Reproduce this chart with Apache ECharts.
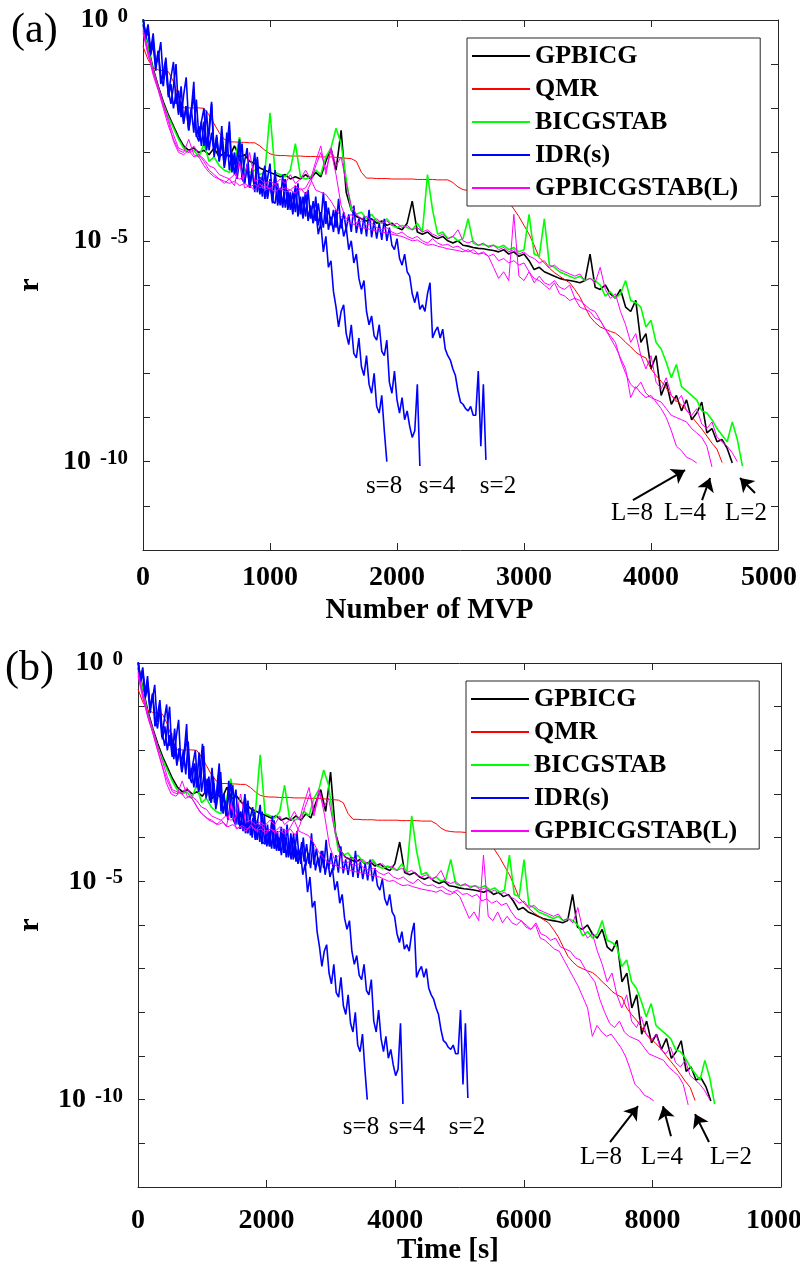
<!DOCTYPE html>
<html>
<head>
<meta charset="utf-8">
<script src="https://cdn.jsdelivr.net/npm/echarts@6/dist/echarts.min.js"></script>
<style>
html, body { margin: 0; padding: 0; background: #fff; overflow: hidden; }
#chart { width: 800px; height: 1278px; }
</style>
</head>
<body>
<div id="chart"></div>
<script>
// residual histories: log10(r), one value every `step` MVPs
const step40 = 40;
const step20 = 20;

const gpbicg = [
    0, -0.6, -1.1, -1.5, -1.85, -2.15, -2.4, -2.65, -2.85, -2.95,
    -2.9, -3.0, -2.95, -3.05, -2.9, -3.1, -3.0, -3.1, -2.85, -3.1,
    -3.05, -3.2, -3.25, -3.35, -3.4, -3.45, -3.5, -3.55, -3.5, -3.6,
    -3.55, -3.6, -3.5, -3.6, -3.45, -3.55, -3.2, -2.9, -3.4, -2.5,
    -3.9, -4.3, -4.45, -4.5, -4.55, -4.5, -4.6, -4.55, -4.65, -4.6,
    -4.7, -4.75, -4.6, -4.1, -4.8, -4.85, -4.8, -4.9, -4.95, -4.9,
    -5.0, -5.05, -5.0, -5.1, -5.12, -5.15, -5.17, -5.18, -5.2, -5.22,
    -5.25, -5.2, -5.3, -5.25, -5.35, -5.3, -5.45, -5.65, -5.6, -5.7,
    -5.75, -5.8, -5.85, -5.88, -5.9, -5.92, -5.95, -5.9, -5.3, -6.05,
    -6.1, -6.0, -6.2, -6.3, -6.1, -6.5, -6.6, -6.35, -7.3, -7.1,
    -7.9, -7.6, -8.5, -8.2, -8.7, -8.5, -8.85, -8.6, -9.05, -8.9,
    -8.65, -9.35, -9.25, -9.55, -9.5, -9.7, -10.03
];

const qmr = [
    -0.6, -0.9, -1.08, -1.13, -1.15, -1.17, -1.4, -1.75, -1.99, -1.99,
    -1.99, -1.99, -2.0, -2.15, -2.35, -2.55, -2.7, -2.76, -2.76, -2.77,
    -2.77, -2.78, -2.78, -2.85, -2.95, -3.03, -3.06, -3.07, -3.07, -3.08,
    -3.08, -3.08, -3.09, -3.09, -3.09, -3.1, -3.1, -3.1, -3.11, -3.12,
    -3.13, -3.14, -3.2, -3.45, -3.58, -3.58, -3.59, -3.59, -3.59, -3.6,
    -3.6, -3.6, -3.6, -3.6, -3.61, -3.61, -3.61, -3.61, -3.62, -3.62,
    -3.62, -3.68, -3.78, -3.84, -3.86, -3.87, -3.87, -3.88, -3.88, -3.89,
    -3.89, -3.95, -4.12, -4.28, -4.45, -4.65, -4.85, -5.1, -5.38, -5.5,
    -5.62, -5.72, -5.8, -5.88, -5.95, -6.1, -6.27, -6.5, -6.72, -6.85,
    -6.95, -7.0, -7.05, -7.09, -7.18, -7.3, -7.4, -7.52, -7.6, -7.65,
    -7.9, -8.05, -8.18, -8.33, -8.5, -8.6, -8.72, -8.83, -8.98, -9.12,
    -9.26, -9.42, -9.58, -9.72, -10.02
];

const bicgstab = [
    0, -0.65, -1.15, -1.55, -1.9, -2.2, -2.45, -2.7, -2.9, -3.0,
    -2.95, -3.1, -2.8, -3.2, -3.1, -3.3, -3.4, -3.45, -3.2, -2.65,
    -3.4, -3.45, -3.4, -3.5, -3.45, -2.1, -3.45, -3.5, -3.55, -3.4,
    -2.8, -3.55, -3.6, -3.55, -3.4, -3.5, -3.1, -2.9, -2.45, -2.8,
    -3.6, -4.3, -4.4, -4.35, -4.5, -4.4, -4.55, -4.6, -4.5, -4.65,
    -4.7, -4.65, -4.7, -4.75, -4.6, -4.8, -3.5, -4.3, -4.85, -4.8,
    -4.95, -4.9, -5.0, -4.95, -4.5, -5.05, -5.1, -5.08, -5.12, -5.1,
    -5.15, -5.1, -5.2, -5.15, -5.25, -5.2, -4.4, -5.3, -5.35, -4.5,
    -5.55, -5.6, -5.7, -5.75, -5.8, -5.85, -5.8, -5.9, -5.85, -5.9,
    -6.0, -6.25, -6.15, -6.3, -6.2, -5.9, -6.35, -6.4, -6.5, -6.95,
    -6.8, -7.3, -7.45, -7.75, -8.1, -7.8, -8.3, -8.4, -8.5, -8.6,
    -8.85, -8.9, -9.05, -9.25, -9.4, -9.55, -9.1, -9.5, -10.1
];

const idr8 = [
    0.05, -0.35, -0.1, -0.7, -0.3, -1.0, -0.85, -0.5, -1.35, -1.1,
    -1.7, -1.3, -0.95, -1.9, -1.6, -2.2, -1.7, -1.3, -2.35, -2.0,
    -2.55, -1.8, -2.65, -2.3, -2.0, -2.85, -2.45, -1.85, -3.0, -2.65,
    -3.15, -2.4, -3.2, -2.9, -2.3, -3.35, -3.0, -3.5, -2.7, -3.55,
    -3.2, -2.9, -3.7, -3.4, -3.85, -3.1, -3.9, -3.55, -3.3, -4.0,
    -3.6, -4.1, -3.4, -4.1, -3.8, -4.2, -3.6, -4.25, -3.9, -4.3,
    -3.75, -4.35, -4.0, -4.45, -3.9, -4.5, -4.2, -4.6, -4.3, -4.85,
    -4.6, -5.25, -4.9, -5.6, -5.45, -6.15, -6.5, -6.95, -6.6, -6.45,
    -7.1, -7.35, -6.9, -7.55, -7.65, -7.2, -7.85, -8.05, -7.6, -8.25,
    -8.45, -8.0, -8.75, -8.9, -8.5, -9.3, -10.0
];

const idr4 = [
    0.1, -0.45, -0.2, -0.8, -0.55, -1.15, -0.7, -1.45, -1.2, -0.85,
    -1.6, -1.9, -1.5, -1.0, -2.1, -1.85, -2.35, -1.95, -2.5, -2.05,
    -1.4, -2.65, -2.4, -2.85, -2.3, -2.95, -2.6, -1.9, -3.1, -2.75,
    -3.2, -2.6, -3.35, -3.0, -2.5, -3.45, -3.15, -3.6, -3.2, -2.8,
    -3.7, -3.3, -3.8, -3.45, -3.0, -3.9, -3.55, -4.0, -3.4, -4.05,
    -3.7, -4.15, -3.5, -4.2, -3.85, -4.25, -3.6, -4.3, -4.0, -4.4,
    -3.8, -4.45, -4.1, -4.5, -3.9, -4.55, -4.25, -4.6, -4.0, -4.65,
    -4.35, -4.7, -4.1, -4.75, -4.45, -4.8, -4.3, -4.85, -4.5, -4.9,
    -4.7, -5.2, -5.0, -5.5, -5.3, -5.85, -6.1, -5.9, -6.6, -6.9,
    -6.7, -7.15, -7.25, -6.9, -7.5, -7.6, -7.25, -8.2, -8.45, -7.95,
    -8.6, -8.9, -8.55, -9.05, -8.85, -9.2, -9.45, -9.3, -8.25, -10.1
];

const idr2 = [
    -0.1, -0.4, -0.25, -0.75, -0.45, -1.05, -0.7, -1.25, -1.5, -0.95,
    -1.75, -1.45, -2.0, -1.65, -2.15, -1.5, -2.3, -1.95, -2.5, -2.1,
    -1.7, -2.6, -2.75, -2.3, -2.85, -2.05, -2.95, -2.55, -3.05, -2.6,
    -3.2, -2.75, -3.3, -2.55, -3.4, -3.0, -3.5, -3.1, -2.75, -3.6,
    -3.7, -3.25, -3.8, -3.35, -3.9, -3.15, -3.95, -3.55, -4.05, -3.6,
    -3.25, -4.1, -4.15, -3.7, -4.2, -3.5, -4.25, -3.85, -4.3, -3.9,
    -4.35, -3.7, -4.4, -4.0, -4.45, -3.85, -4.5, -4.1, -4.55, -4.15,
    -4.6, -3.9, -4.62, -4.25, -4.65, -4.3, -4.7, -4.05, -4.72, -4.35,
    -4.75, -4.4, -4.8, -4.2, -4.82, -4.5, -4.85, -4.45, -4.9, -4.3,
    -4.92, -4.55, -4.95, -4.6, -4.98, -4.5, -5.0, -4.7, -5.1, -5.2,
    -4.95, -5.4, -5.55, -5.3, -5.7, -5.8, -6.2, -6.4, -6.15, -6.55,
    -6.45, -6.6, -6.2, -5.95, -7.2, -7.05, -6.95, -7.2, -7.0, -7.45,
    -7.6, -7.7, -7.9, -8.05, -8.4, -8.65, -8.7, -8.8, -8.85, -8.75,
    -8.95, -8.95, -7.95, -9.65, -8.25, -9.96
];

const gpL8 = [
    -0.3, -0.8, -1.2, -1.55, -1.95, -2.3, -2.75, -3.0, -3.05, -2.95,
    -3.1, -3.05, -3.2, -3.4, -3.5, -3.6, -3.65, -3.7, -3.65, -3.75,
    -3.7, -3.78, -3.72, -3.8, -3.75, -3.82, -3.7, -3.85, -3.8, -3.85,
    -3.75, -3.85, -3.8, -3.6, -3.85, -3.9, -3.95, -4.1, -4.3, -4.45,
    -4.55, -4.6, -4.65, -4.7, -4.72, -4.75, -4.78, -4.8, -4.82, -4.85,
    -4.88, -4.9, -4.95, -5.0, -4.98, -5.05, -5.1, -5.08, -5.12, -5.15,
    -5.18, -5.2, -5.22, -5.25, -5.2, -5.28, -5.3, -5.25, -5.35, -5.6,
    -5.85, -5.7, -5.9, -4.4, -5.8, -5.9, -5.7, -5.95, -5.8, -5.95,
    -6.0, -5.9, -6.05, -6.1, -6.0, -6.3, -6.35, -6.45, -6.55, -6.6,
    -6.8, -7.0, -7.2, -7.4, -7.65, -7.9, -8.55, -8.3, -8.45, -8.55,
    -8.5, -8.65, -8.8, -9.0, -9.3, -9.65, -9.75, -9.9, -9.95, -10.03
];

const gpL4 = [
    -0.2, -0.75, -1.25, -1.6, -2.0, -2.4, -2.7, -2.95, -3.0, -2.7,
    -3.05, -3.1, -3.3, -3.45, -3.55, -3.6, -3.7, -3.6, -3.75, -3.2,
    -3.8, -3.75, -3.85, -3.7, -3.85, -3.8, -3.9, -3.8, -3.9, -3.85,
    -3.92, -3.8, -3.95, -3.7, -3.3, -3.0, -3.4, -2.95, -3.5, -4.2,
    -4.5, -4.4, -4.6, -4.55, -4.65, -4.6, -4.7, -4.75, -4.7, -4.8,
    -4.85, -4.8, -4.9, -4.95, -4.9, -5.0, -5.05, -4.95, -5.05, -5.1,
    -5.08, -5.15, -5.12, -5.2, -5.25, -5.2, -5.3, -5.28, -5.35, -5.3,
    -5.45, -5.4, -5.5, -5.45, -5.55, -5.5, -5.7, -5.85, -5.9, -6.0,
    -6.1, -5.95, -6.2, -6.25, -6.35, -6.3, -6.5, -6.55, -6.6, -6.75,
    -6.8, -7.0, -7.15, -7.3, -7.7, -8.0, -8.25, -8.35, -8.2, -8.45,
    -8.55, -8.6, -8.65, -8.8, -8.95, -9.0, -9.05, -9.1, -9.25, -9.35,
    -9.45, -9.65, -10.12
];

const gpL2 = [
    -0.25, -0.7, -1.15, -1.5, -1.9, -2.25, -2.6, -2.9, -2.95, -3.0,
    -2.85, -3.05, -3.15, -3.3, -3.35, -3.5, -3.55, -3.6, -3.5, -3.6,
    -3.55, -3.0, -3.65, -3.6, -3.7, -3.65, -3.72, -3.6, -3.7, -3.5,
    -3.7, -3.6, -3.4, -3.6, -3.2, -2.85, -3.5, -2.9, -3.3, -3.1,
    -3.7, -4.2, -4.4, -4.5, -4.45, -4.55, -4.5, -4.6, -4.55, -4.65,
    -4.6, -4.7, -4.65, -4.75, -4.7, -4.8, -4.75, -4.85, -4.9, -4.85,
    -4.95, -4.9, -4.75, -5.0, -5.05, -5.0, -5.1, -5.05, -5.15, -5.1,
    -5.2, -5.15, -5.25, -5.2, -5.3, -5.25, -5.35, -5.4, -5.5, -5.45,
    -5.6, -5.55, -5.65, -5.7, -5.75, -5.8, -5.75, -5.9, -5.85, -5.95,
    -5.6, -6.1, -6.3, -6.2, -6.6, -6.9, -7.3, -7.1, -7.6, -7.9,
    -7.6, -8.2, -8.35, -8.1, -8.5, -8.65, -8.5, -8.85, -8.95, -8.8,
    -9.15, -9.25, -9.1, -9.45, -9.55, -9.65, -9.8, -10.0
];

// wall-clock seconds per MVP for each run (b)
const secPerMvp = {
    gpbicg: 1.92, qmr: 1.90, bicgstab: 1.90,
    idr8: 1.857, idr4: 1.89, idr2: 1.90,
    gpL8: 1.84, gpL4: 1.91, gpL2: 1.90
};

const legendNames = ['GPBICG', 'QMR', 'BICGSTAB', 'IDR(s)', 'GPBICGSTAB(L)'];
const yLabelTicks = [0, -5, -10];

// text annotations [x, log10 r, text] and arrows [x0, y0, x1, y1]
const notesA = [[1898, -10.55, 's=8'], [2315, -10.55, 's=4'], [2795, -10.55, 's=2'],
                [3850, -11.18, 'L=8'], [4268, -11.18, 'L=4'], [4748, -11.18, 'L=2']];
const arrowsA = [[3858, -10.87, 4268, -10.19], [4402, -10.87, 4465, -10.37], [4819, -10.71, 4701, -10.37]];
const notesB = [[3468, -10.63, 's=8'], [4183, -10.63, 's=4'], [5117, -10.63, 's=2'],
                [7201, -11.32, 'L=8'], [8149, -11.32, 'L=4'], [9222, -11.32, 'L=2']];
const arrowsB = [[7341, -10.97, 7776, -10.15], [8289, -10.84, 8165, -10.15], [8880, -10.97, 8663, -10.33]];

const serif = '"Liberation Serif", "Times New Roman", serif';
const axisColor = '#262626';

const runs = [
    { key: 'gpbicg', name: 'GPBICG', values: gpbicg, step: step40, color: '#000000', width: 1.6 },
    { key: 'qmr', name: 'QMR', values: qmr, step: step40, color: '#ff0000', width: 1 },
    { key: 'bicgstab', name: 'BICGSTAB', values: bicgstab, step: step40, color: '#00ff00', width: 1.6 },
    { key: 'idr8', name: 'IDR(s)', values: idr8, step: step20, color: '#0000ff', width: 1.6 },
    { key: 'idr4', name: 'IDR(s)', values: idr4, step: step20, color: '#0000ff', width: 1.6 },
    { key: 'idr2', name: 'IDR(s)', values: idr2, step: step20, color: '#0000ff', width: 1.6 },
    { key: 'gpL8', name: 'GPBICGSTAB(L)', values: gpL8, step: step40, color: '#ff00ff', width: 1 },
    { key: 'gpL4', name: 'GPBICGSTAB(L)', values: gpL4, step: step40, color: '#ff00ff', width: 1 },
    { key: 'gpL2', name: 'GPBICGSTAB(L)', values: gpL2, step: step40, color: '#ff00ff', width: 1 }
];

const tickFont = { fontFamily: serif, fontWeight: 'bold', fontSize: 28, color: '#000' };

function xAxes(grid, max, interval, name, nameGap, namePad, labelMargin, lastPad) {
    const line = { onZero: false, lineStyle: { color: axisColor, width: 1 } };
    const tick = { inside: true, length: 7, lineStyle: { color: axisColor } };
    return [
        {
            gridIndex: grid, type: 'value', min: 0, max: max, interval: interval, position: 'bottom',
            name: name, nameLocation: 'middle', nameGap: nameGap,
            nameTextStyle: { fontFamily: serif, fontWeight: 'bold', fontSize: 29, color: '#000', padding: [0, namePad, 0, 0] },
            axisLine: line, axisTick: tick, splitLine: { show: false },
            axisLabel: Object.assign({
                margin: labelMargin,
                // last label is nudged left so it stays inside the figure, as in the original
                formatter: v => (v === max ? '{m|' + v + '}' : String(v)),
                rich: { m: Object.assign({ padding: [0, lastPad, 0, 0] }, tickFont) }
            }, tickFont)
        },
        {
            gridIndex: grid, type: 'value', min: 0, max: max, interval: interval, position: 'top',
            axisLine: line, axisTick: tick, splitLine: { show: false }, axisLabel: { show: false }
        }
    ];
}

function yAxes(grid, nameGap) {
    const line = { onZero: false, lineStyle: { color: axisColor, width: 1 } };
    const tick = { inside: true, length: 7, lineStyle: { color: axisColor } };
    return [
        {
            gridIndex: grid, type: 'value', min: -12, max: 0, interval: 1, position: 'left',
            name: 'r', nameLocation: 'middle', nameRotate: 90, nameGap: nameGap,
            nameTextStyle: { fontFamily: serif, fontWeight: 'bold', fontSize: 30, color: '#000' },
            axisLine: line, axisTick: tick, splitLine: { show: false },
            axisLabel: {
                margin: 15,
                formatter: v => (yLabelTicks.indexOf(v) >= 0 ? '{b|10}{e|' + v + '}' : ''),
                rich: {
                    b: { fontFamily: serif, fontWeight: 'bold', fontSize: 28, lineHeight: 28, padding: [8, 0, 0, 0], verticalAlign: 'bottom', color: '#000' },
                    e: { fontFamily: serif, fontWeight: 'bold', fontSize: 21, lineHeight: 21, padding: [0, 0, 0, 9], verticalAlign: 'top', color: '#000' }
                }
            }
        },
        {
            gridIndex: grid, type: 'value', min: -12, max: 0, interval: 1, position: 'right',
            axisLine: line, axisTick: tick, splitLine: { show: false }, axisLabel: { show: false }
        }
    ];
}

function runSeries(xIndex, yIndex, timeAxis) {
    return runs.map(run => ({
        name: run.name,
        type: 'line',
        xAxisIndex: xIndex,
        yAxisIndex: yIndex,
        symbol: 'none',
        animation: false,
        color: run.color,
        lineStyle: { color: run.color, width: run.width },
        data: run.values.map((v, i) => [i * run.step * (timeAxis ? secPerMvp[run.key] : 1), v])
    }));
}

function noteSeries(xIndex, yIndex, notes, arrows) {
    return {
        type: 'scatter',
        xAxisIndex: xIndex,
        yAxisIndex: yIndex,
        silent: true,
        animation: false,
        symbolSize: 1,
        itemStyle: { color: 'rgba(0,0,0,0)' },
        label: {
            show: true, position: 'inside', formatter: p => p.data[2],
            fontFamily: serif, fontSize: 25, color: '#000', textBorderWidth: 0, opacity: 1
        },
        data: notes,
        markLine: {
            silent: true,
            animation: false,
            symbol: ['none', 'arrow'],
            symbolSize: 13,
            lineStyle: { color: '#000', width: 2, type: 'solid' },
            label: { show: false },
            data: arrows.map(a => [{ coord: [a[0], a[1]] }, { coord: [a[2], a[3]] }])
        }
    };
}

function legendBox(left, top) {
    return {
        data: legendNames,
        orient: 'vertical',
        left: left, top: top,
        icon: 'rect',
        itemWidth: 58, itemHeight: 2, itemGap: 7,
        padding: [5, 22, 5, 5],
        backgroundColor: '#fff',
        borderColor: axisColor, borderWidth: 1, borderRadius: 0,
        selectedMode: false,
        textStyle: { fontFamily: serif, fontWeight: 'bold', fontSize: 26, lineHeight: 26, color: '#000' }
    };
}

const chart = echarts.init(document.getElementById('chart'), null, { renderer: 'canvas' });
chart.setOption({
    animation: false,
    backgroundColor: '#fff',
    grid: [
        { left: 143, top: 20, width: 635, height: 530, containLabel: false, outerBoundsMode: 'none' },
        { left: 138, top: 663, width: 643, height: 524, containLabel: false, outerBoundsMode: 'none' }
    ],
    xAxis: [].concat(
        xAxes(0, 5000, 1000, 'Number of MVP', 46, 62, 14, 18),
        xAxes(1, 10000, 2000, 'Time [s]', 48, 23, 20, 0)
    ),
    yAxis: [].concat(yAxes(0, 98), yAxes(1, 93)),
    legend: [legendBox(467, 38), legendBox(466, 681)],
    graphic: [
        { type: 'text', left: 11, top: 10, style: { text: '(a)', font: '42px ' + serif, fill: '#000' } },
        { type: 'text', left: 5, top: 648, style: { text: '(b)', font: '42px ' + serif, fill: '#000' } }
    ],
    series: [].concat(
        runSeries(0, 0, false),
        [noteSeries(0, 0, notesA, arrowsA)],
        runSeries(2, 2, true),
        [noteSeries(2, 2, notesB, arrowsB)]
    )
});
</script>
</body>
</html>
